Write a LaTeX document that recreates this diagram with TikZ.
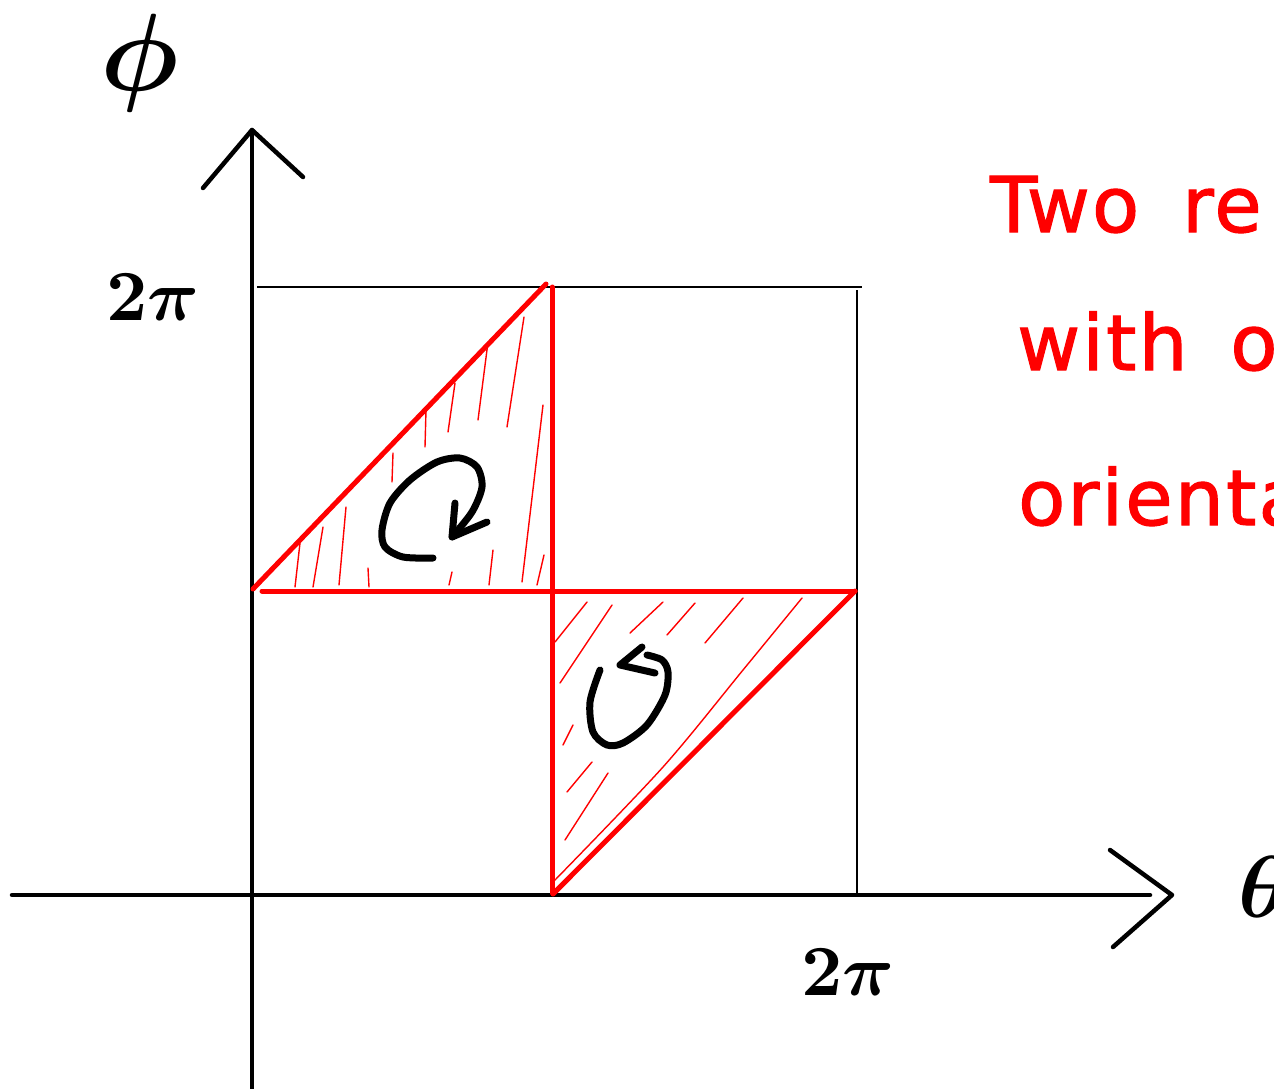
\documentclass[tikz,border=0pt]{standalone}
\usepackage{fontspec}
\usepackage{unicode-math}
\setmathfont{Latin Modern Math}
\newfontfamily\handfont[LetterSpace=3,WordSpace=1.6,FakeBold=1.5]{DejaVu Sans}
\begin{document}
\begin{tikzpicture}[x=1pt,y=-1pt,
  axis/.style={line width=4.5pt,line cap=round,line join=round},
  frame/.style={line width=2pt},
  redline/.style={red,line width=5pt,line cap=round},
  hatch/.style={red,line width=1.4pt,line cap=round},
  turn/.style={line width=7pt,line cap=round,line join=round},
  lbl/.style={inner sep=0pt,font=\fontsize{72}{72}\selectfont},
  note/.style={red,inner sep=0pt,anchor=base west,font=\handfont\fontsize{77}{77}\selectfont}]
\useasboundingbox (0,0) rectangle (1274,1088);
\clip (0,0) rectangle (1274,1088);
% axes
\coordinate (ytop) at (252,130);
\coordinate (ybot) at (252,1092);
\coordinate (yl) at (203,188);
\coordinate (yr) at (303,177);
\coordinate (xleft) at (12,895);
\coordinate (xend) at (1150,895);
\coordinate (xtip) at (1172,895);
\coordinate (xu) at (1110,850);
\coordinate (xd) at (1113,947);
\draw[axis] (ybot) -- (ytop);
\draw[axis] (yl) -- (ytop) -- (yr);
\draw[axis] (xleft) -- (xend);
\draw[axis] (xu) -- (xtip) -- (xd);
% thin square
\coordinate (s1) at (257,287);
\coordinate (s2) at (862,287);
\coordinate (s3) at (857,290);
\coordinate (s4) at (857,895);
\draw[frame] (s1) -- (s2);
\draw[frame] (s3) -- (s4);
% hatching
\foreach \xa/\ya/\xb/\yb in {295/587/300/543, 313/587/323/527, 339/585/346/507, 369/587/368/568,
  392/482/393/453, 425/447/426/410, 448/432/455/383, 478/420/488/342, 507/427/524/317,
  449/585/452/572, 489/585/493/550, 522/582/543/405, 537/585/544/555,
  555/642/587/602, 560/683/612/605, 630/633/663/602, 667/635/695/603, 705/643/743/598,
  563/745/573/725, 567/792/592/762, 565/840/608/773}
  {\draw[hatch] (\xa,\ya) -- (\xb,\yb);}
\draw[hatch] plot[smooth] coordinates {(555,880) (663,767) (743,670) (802,598)};
% red triangles
\coordinate (A) at (253,589);
\coordinate (B) at (546,284);
\coordinate (C) at (552,287);
\coordinate (D) at (552,893);
\coordinate (E) at (262,591);
\coordinate (F) at (855,591);
\coordinate (G) at (553,894);
\draw[redline] (A) -- (B);
\draw[redline] (C) -- (D);
\draw[redline] (E) -- (F);
\draw[redline] (G) -- (F);
% orientation arrows
\draw[turn] plot[smooth] coordinates {(433,558) (403,557) (385,547) (382,530) (390,503) (410,480) (437,462) (460,458) (477,467) (482,487) (472,512) (452,537)};
\coordinate (t1) at (452,537);
\draw[turn] (455,503) -- (t1) -- (487,522);
\draw[turn] plot[smooth] coordinates {(600,670) (590,702) (593,732) (607,745) (623,743) (647,725) (665,695) (668,672) (662,660) (647,655)};
\coordinate (t2) at (620,665);
\draw[turn] (642,647) -- (t2) -- (655,673);
% labels
\node[lbl] (twopiy) at (152,297) {$\symbf{2\pi}$};
\node[lbl] (twopix) at (847,972) {$\symbf{2\pi}$};
\node[inner sep=0pt,font=\fontsize{110}{110}\selectfont] (phi) at (140,63) {$\symbf{\phi}$};
\node[inner sep=0pt,font=\fontsize{88}{88}\selectfont] (theta) at (1264,887) {$\symbf{\theta}$};
% note
\node[note] (l1) at (990,232) {Two re};
\node[note] (l2) at (1017,370) {with op};
\node[note] (l3) at (1018,525) {orienta};
\end{tikzpicture}
\end{document}
